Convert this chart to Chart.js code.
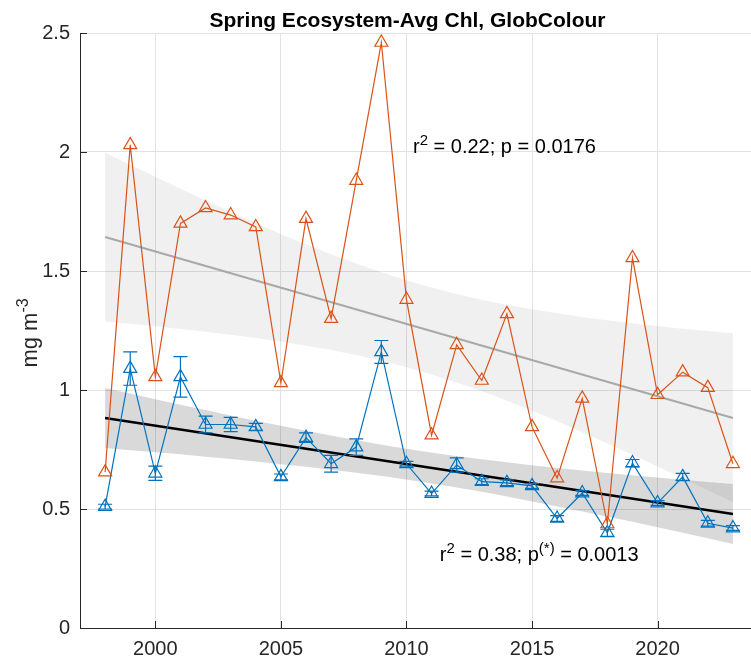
<!DOCTYPE html>
<html>
<head>
<meta charset="utf-8">
<script src="https://cdn.jsdelivr.net/npm/chart.js@4"></script>
<style>
  html, body { margin: 0; padding: 0; background: #fff; overflow: hidden; }
  canvas { display: block; }
</style>
</head>
<body>
<canvas id="chl" width="751" height="657"></canvas>
<script>
const FONT = '"Liberation Sans", Arial, Helvetica, sans-serif';

// yearly spring means
const years = [1998,1999,2000,2001,2002,2003,2004,2005,2006,2007,2008,2009,2010,
               2011,2012,2013,2014,2015,2016,2017,2018,2019,2020,2021,2022,2023];
const ecoChl  = [0.655,2.03,1.055,1.70,1.765,1.735,1.685,1.03,1.72,1.30,1.88,2.46,1.38,
                 0.81,1.19,1.04,1.32,0.845,0.63,0.965,0.437,1.555,0.98,1.075,1.01,0.69];
const globChl = [0.51,1.09,0.65,1.055,0.855,0.855,0.845,0.635,0.80,0.69,0.76,1.16,0.69,
                 0.565,0.685,0.615,0.61,0.597,0.46,0.567,0.40,0.693,0.525,0.635,0.44,0.42];
const globErr = [0.01,0.07,0.03,0.085,0.035,0.03,0.015,0.012,0.02,0.035,0.035,0.048,0.01,
                 0.01,0.03,0.012,0.012,0.01,0.012,0.01,0.015,0.015,0.01,0.015,0.012,0.01];

// fitted trends and their confidence bands
const trendYears = [1998, 2023];
const ecoTrend   = [1.643, 0.882];
const globTrend  = [0.882, 0.479];
const bandYears  = [1998,2000,2002,2004,2006,2008,2010.5,2013,2015,2017,2019,2021,2023];
const ecoUpper   = [1.998,1.896,1.797,1.702,1.612,1.531,1.445,1.379,1.339,1.307,1.280,1.257,1.238];
const ecoLower   = [1.288,1.268,1.245,1.218,1.186,1.147,1.081,0.995,0.913,0.823,0.728,0.629,0.528];
const globUpper  = [1.008,0.961,0.916,0.871,0.829,0.789,0.745,0.709,0.684,0.662,0.642,0.623,0.605];
const globLower  = [0.756,0.738,0.720,0.700,0.677,0.652,0.616,0.572,0.532,0.490,0.446,0.400,0.353];

const xTicks = [2000, 2005, 2010, 2015, 2020];
const yTicks = [0, 0.5, 1, 1.5, 2, 2.5];

const ORANGE = '#D95319';
const BLUE = '#0072BD';
const AXIS = '#262626';

const pts = (xs, ys) => xs.map((x, i) => ({ x, y: ys[i] }));

function drawRich(ctx, parts, x, y){
  let cx = x;
  parts.forEach(p => {
    ctx.font = `${p.bold ? 'bold ' : ''}${p.s}px ${FONT}`;
    ctx.fillText(p.t, cx, y + (p.dy || 0));
    cx += ctx.measureText(p.t).width;
  });
  return cx - x;
}
function richWidth(ctx, parts){
  let w = 0;
  parts.forEach(p => { ctx.font = `${p.bold ? 'bold ' : ''}${p.s}px ${FONT}`; w += ctx.measureText(p.t).width; });
  return w;
}

const decor = {
  id: 'decor',
  afterDatasetsDraw(chart){
    const { ctx, chartArea: a, scales: { x, y } } = chart;
    ctx.save();
    // error bars on the GlobColour series
    ctx.strokeStyle = BLUE;
    ctx.lineWidth = 1.2;
    years.forEach((yr, i) => {
      const px = x.getPixelForValue(yr);
      const top = y.getPixelForValue(globChl[i] + globErr[i]);
      const bot = y.getPixelForValue(globChl[i] - globErr[i]);
      ctx.beginPath();
      ctx.moveTo(px, top); ctx.lineTo(px, bot);
      ctx.moveTo(px - 7, top); ctx.lineTo(px + 7, top);
      ctx.moveTo(px - 7, bot); ctx.lineTo(px + 7, bot);
      ctx.stroke();
    });
    // inward tick marks
    ctx.strokeStyle = AXIS;
    ctx.lineWidth = 1;
    ctx.beginPath();
    xTicks.forEach(v => {
      const px = Math.round(x.getPixelForValue(v)) + 0.5;
      ctx.moveTo(px, a.bottom); ctx.lineTo(px, a.bottom - 7);
    });
    yTicks.forEach(v => {
      const py = Math.round(y.getPixelForValue(v)) + 0.5;
      ctx.moveTo(a.left, py); ctx.lineTo(a.left + 7, py);
    });
    ctx.stroke();
    ctx.restore();
  },
  afterDraw(chart){
    const { ctx, scales: { x, y } } = chart;
    ctx.save();
    ctx.fillStyle = '#000';
    ctx.textBaseline = 'alphabetic';
    ctx.textAlign = 'left';

    // title
    const title = [{ t: 'Spring Ecosystem-Avg Chl, GlobColour', s: 21, bold: true }];
    drawRich(ctx, title, 407.5 - richWidth(ctx, title) / 2, 27);

    // fit statistics
    drawRich(ctx, [
      { t: 'r', s: 20 }, { t: '2', s: 15, dy: -8 }, { t: ' = 0.22; p = 0.0176', s: 20 }
    ], x.getPixelForValue(2010.26), y.getPixelForValue(1.996));
    drawRich(ctx, [
      { t: 'r', s: 20 }, { t: '2', s: 15, dy: -8 }, { t: ' = 0.38; p', s: 20 },
      { t: '(*)', s: 15, dy: -8 }, { t: ' = 0.0013', s: 20 }
    ], x.getPixelForValue(2011.33), y.getPixelForValue(0.2815));

    // y axis label
    const ylab = [{ t: 'mg m', s: 22 }, { t: '-3', s: 16, dy: -9 }];
    ctx.fillStyle = AXIS;
    ctx.translate(37, 333);
    ctx.rotate(-Math.PI / 2);
    drawRich(ctx, ylab, -richWidth(ctx, ylab) / 2, 0);
    ctx.restore();
  }
};

const band = (data, extra) => Object.assign({
  data, borderWidth: 0, pointRadius: 0, fill: false,
  cubicInterpolationMode: 'monotone'
}, extra);

new Chart(document.getElementById('chl'), {
  type: 'line',
  data: {
    datasets: [
      band(pts(bandYears, ecoLower), { order: 10 }),
      band(pts(bandYears, ecoUpper), { order: 9, fill: 0, backgroundColor: 'rgba(0,0,0,0.06)' }),
      band(pts(bandYears, globLower), { order: 8 }),
      band(pts(bandYears, globUpper), { order: 7, fill: 2, backgroundColor: 'rgba(0,0,0,0.15)' }),
      {
        data: pts(trendYears, ecoTrend), order: 6,
        borderColor: '#a8a8a8', borderWidth: 2, pointRadius: 0, fill: false
      },
      {
        data: pts(trendYears, globTrend), order: 5,
        borderColor: '#000', borderWidth: 2.5, pointRadius: 0, fill: false
      },
      {
        data: pts(years, globChl), order: 4,
        borderColor: BLUE, borderWidth: 1.2, fill: false,
        pointStyle: 'triangle', pointRadius: 7.5, pointBorderWidth: 1.2,
        pointBorderColor: BLUE, pointBackgroundColor: 'rgba(0,0,0,0)'
      },
      {
        data: pts(years, ecoChl), order: 3,
        borderColor: ORANGE, borderWidth: 1.2, fill: false,
        pointStyle: 'triangle', pointRadius: 7.5, pointBorderWidth: 1.2,
        pointBorderColor: ORANGE, pointBackgroundColor: 'rgba(0,0,0,0)'
      }
    ]
  },
  options: {
    responsive: false,
    animation: false,
    devicePixelRatio: 1,
    layout: { autoPadding: false, padding: { top: 33, left: 0, right: 0, bottom: 0 } },
    plugins: { legend: { display: false }, tooltip: { enabled: false }, title: { display: false } },
    scales: {
      x: {
        type: 'linear', min: 1997, max: 2023.72,
        afterBuildTicks: s => { s.ticks = xTicks.map(v => ({ value: v })); },
        afterFit: s => { s.height = 29; },
        ticks: {
          callback: v => String(v), autoSkip: false, maxRotation: 0,
          color: AXIS, padding: 9, font: { family: FONT, size: 20 }
        },
        grid: { color: '#e2e2e2', drawTicks: false },
        border: { color: AXIS, width: 1 }
      },
      y: {
        type: 'linear', min: 0, max: 2.5,
        afterBuildTicks: s => { s.ticks = yTicks.map(v => ({ value: v })); },
        afterFit: s => { s.width = 80; },
        ticks: {
          callback: v => String(v), color: AXIS, padding: 10,
          font: { family: FONT, size: 20 }
        },
        grid: { color: '#e2e2e2', drawTicks: false },
        border: { color: AXIS, width: 1 }
      }
    }
  },
  plugins: [decor]
});
</script>
</body>
</html>
